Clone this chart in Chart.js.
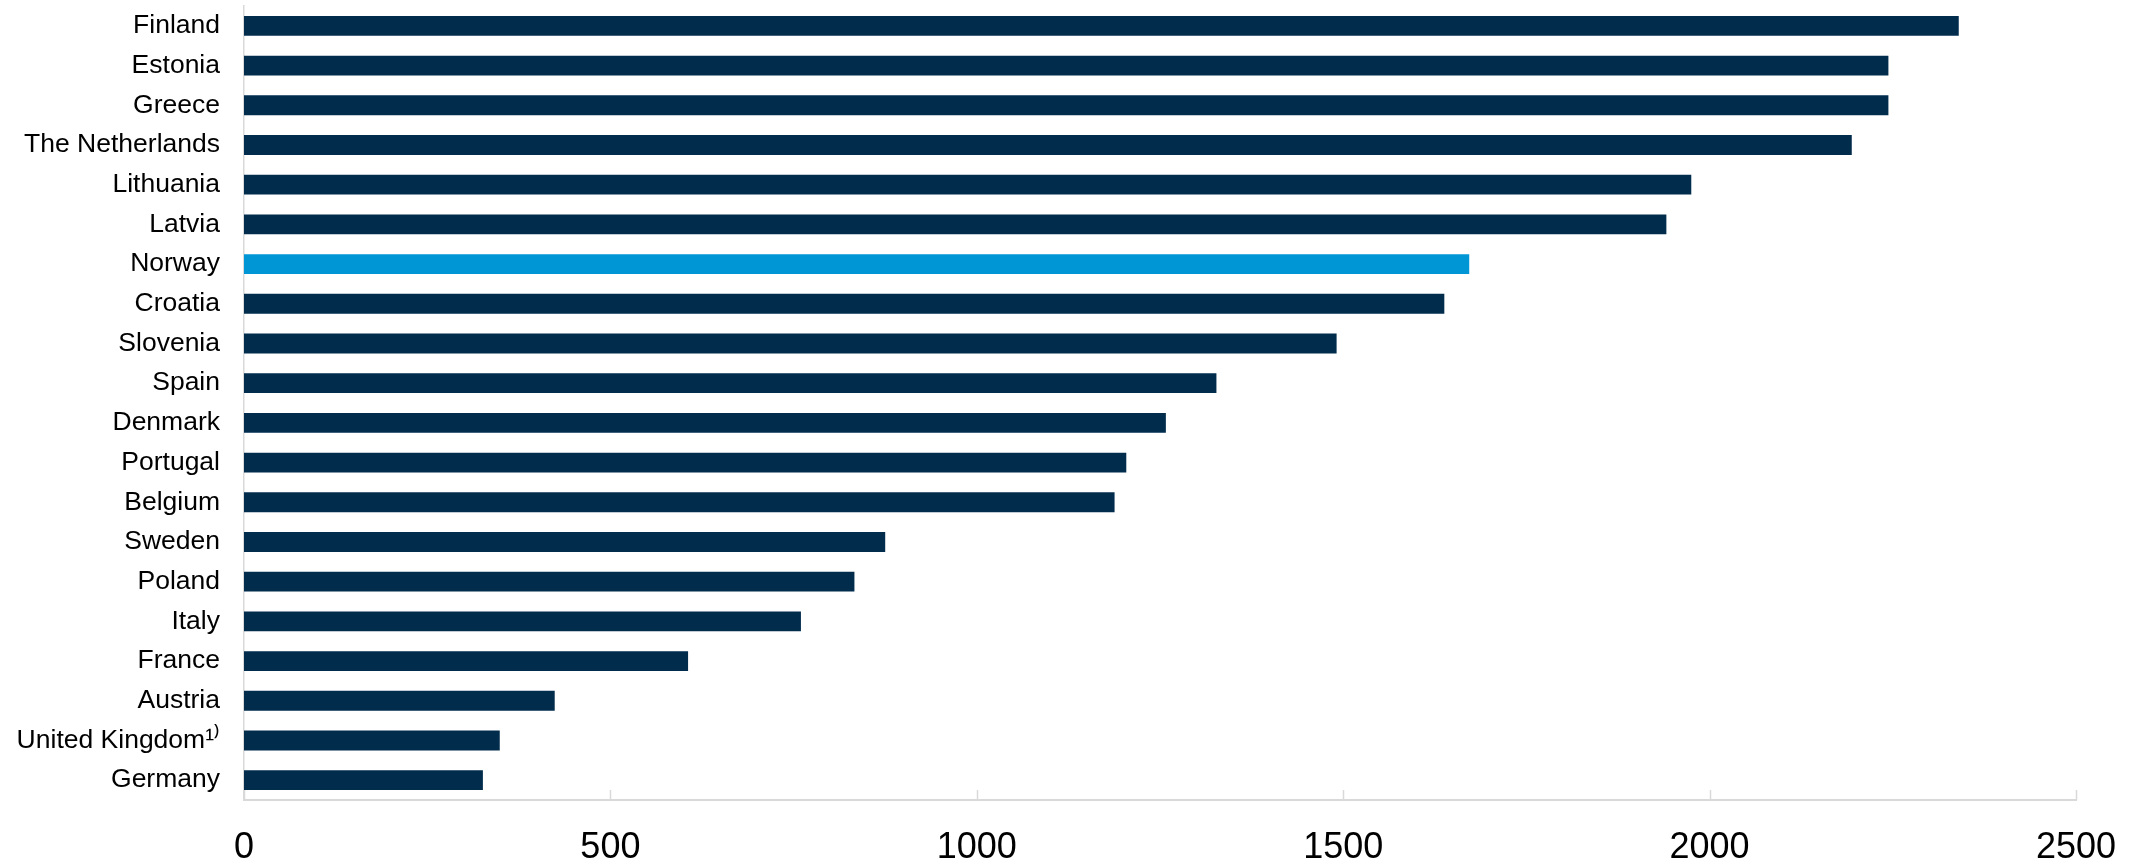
<!DOCTYPE html>
<html>
<head>
<meta charset="utf-8">
<script src="https://cdn.jsdelivr.net/npm/chart.js@4/dist/chart.umd.min.js"></script>
<style>
  html, body { margin: 0; padding: 0; background: #ffffff; }
  #wrap { width: 2134px; height: 860px; position: relative; }
</style>
</head>
<body>
<div id="wrap"><canvas id="chart"></canvas></div>
<script>
// Countries, top to bottom
const countries = [
  'Finland', 'Estonia', 'Greece', 'The Netherlands', 'Lithuania', 'Latvia',
  'Norway', 'Croatia', 'Slovenia', 'Spain', 'Denmark', 'Portugal', 'Belgium',
  'Sweden', 'Poland', 'Italy', 'France', 'Austria', 'United Kingdom\u00B9\u207E', 'Germany'
];

// Value for each country
const values = [
  2340, 2244, 2244, 2194, 1975, 1941,
  1672, 1638, 1491, 1327, 1258, 1204, 1188,
  875, 833, 760, 606, 424, 349, 326
];

// Value axis ticks
const axisTicks = [0, 500, 1000, 1500, 2000, 2500];

const highlighted = 'Norway';
const NAVY = '#012c4c';
const BLUE = '#0096d6';
const AXIS_GREY = '#d9d9d9';
const FONT = '"Liberation Sans", Arial, Helvetica, sans-serif';

const barColors = countries.map(c => (c === highlighted ? BLUE : NAVY));

// Short tick marks pointing up into the plot from the value axis
const innerTicks = {
  id: 'innerTicks',
  afterDraw(chart) {
    const { ctx, scales: { x }, chartArea } = chart;
    ctx.save();
    ctx.strokeStyle = AXIS_GREY;
    ctx.lineWidth = 1.5;
    axisTicks.forEach(v => {
      const px = Math.round(x.getPixelForValue(v)) + 0.5;
      ctx.beginPath();
      ctx.moveTo(px, chartArea.bottom);
      ctx.lineTo(px, chartArea.bottom - 10);
      ctx.stroke();
    });
    ctx.restore();
  }
};

new Chart(document.getElementById('chart'), {
  type: 'bar',
  data: {
    labels: countries,
    datasets: [{
      data: values,
      backgroundColor: barColors,
      borderWidth: 0,
      barPercentage: 0.5,
      categoryPercentage: 1.0
    }]
  },
  options: {
    indexAxis: 'y',
    responsive: true,
    maintainAspectRatio: false,
    animation: false,
    layout: { padding: { top: 6, right: 58, bottom: 0, left: 0 } },
    plugins: {
      legend: { display: false },
      tooltip: { enabled: false }
    },
    scales: {
      x: {
        min: 0,
        max: 2500,
        afterBuildTicks(scale) {
          scale.ticks = axisTicks.map(v => ({ value: v }));
        },
        afterFit(scale) {
          scale.height = 60;
          scale.paddingLeft = 0;
          scale.paddingRight = 0;
        },
        grid: { display: false, drawTicks: false },
        border: { display: true, color: AXIS_GREY, width: 2 },
        ticks: {
          padding: 26,
          color: '#000000',
          font: { family: FONT, size: 36 },
          maxRotation: 0,
          callback: v => String(v)
        }
      },
      y: {
        afterFit(scale) {
          scale.width = 244;
          scale.paddingTop = 0;
          scale.paddingBottom = 0;
        },
        grid: { display: false, drawTicks: false },
        border: { display: true, color: AXIS_GREY, width: 1.5 },
        ticks: {
          padding: 24,
          color: '#000000',
          font: { family: FONT, size: 26.5 },
          autoSkip: false
        }
      }
    }
  },
  plugins: [innerTicks]
});
</script>
</body>
</html>
